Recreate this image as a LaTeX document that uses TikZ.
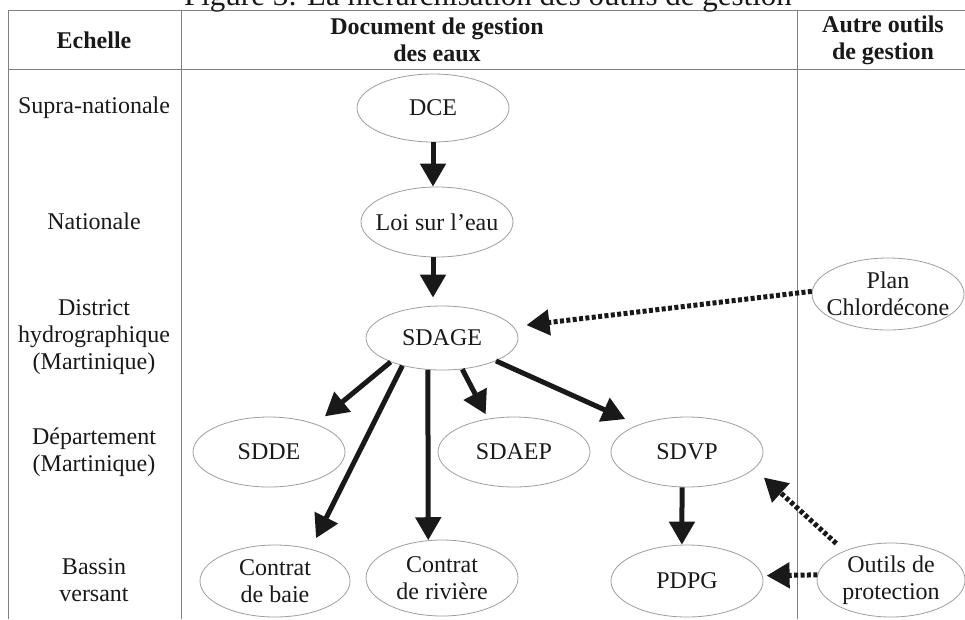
\documentclass[tikz,border=0pt]{standalone}
\usepackage{fontspec}
\setmainfont{Liberation Serif}
\usetikzlibrary{shapes.geometric,arrows.meta}
\begin{document}
\begin{tikzpicture}[x=1pt,y=-1pt,
  every node/.style={font=\fontsize{24}{27}\selectfont, text=black!90},
  doc/.style={ellipse, draw=black!38, line width=0.8pt, fill=white,
    minimum width=152pt, minimum height=70pt, inner xsep=-10pt, inner ysep=0pt, align=center},
  lbl/.style={align=center},
  hdr/.style={align=center, font=\fontsize{24}{27}\selectfont\bfseries},
  gridline/.style={draw=black!50, line width=1pt},
  arr/.style={draw=black!90, line width=5pt, -{Triangle[length=23pt,width=25pt]}},
  darr/.style={arr, dash pattern=on 4pt off 2.4pt}]
\useasboundingbox (0,0) rectangle (965,619);

% table lines
\draw[gridline] (8,619) -- (8,10) -- (965,10);
\draw[gridline] (8,69) -- (965,69);
\draw[gridline] (181,10) -- (181,619);
\draw[gridline] (797,10) -- (797,619);

% title (cut off at the top)
\node[font=\fontsize{31}{35}\selectfont, anchor=base] (title) at (488,5) {Figure 3: La hiérarchisation des outils de gestion};

% headers
\node[hdr] (h1) at (94,40) {Echelle};
\node[hdr] (h2) at (437,40) {Document de gestion\\des eaux};
\node[hdr] (h3) at (883,40) {Autre outils\\de gestion};

% scale labels
\node[lbl] (l1) at (94,108) {Supra-nationale};
\node[lbl] (l2) at (94,221) {Nationale};
\node[lbl] (l3) at (94,337) {District\\hydrographique\\(Martinique)};
\node[lbl] (l4) at (94,452) {Département\\(Martinique)};
\node[lbl] (l5) at (94,580) {Bassin\\versant};

% documents
\node[doc, minimum height=68pt] (dce) at (433,108) {DCE};
\node[doc] (loi) at (437,222) {Loi sur l’eau};
\node[doc, minimum height=64pt] (sdage) at (442,338) {SDAGE};
\node[doc] (sdde) at (269,452) {SDDE};
\node[doc] (sdaep) at (514,452) {SDAEP};
\node[doc] (sdvp) at (687,452) {SDVP};
\node[doc, minimum width=150pt, minimum height=72pt] (baie) at (275,581) {Contrat\\de baie};
\node[doc, minimum height=76pt] (riviere) at (442,578) {Contrat\\de rivière};
\node[doc, minimum height=72pt] (pdpg) at (687,581) {PDPG};
\node[doc, minimum height=72pt] (plan) at (888,294) {Plan\\Chlordécone};
\node[doc, minimum width=148pt, minimum height=74pt] (outils) at (891,580) {Outils de\\protection};

% arrows
\draw[arr] (dce.south) -- (dce.south |- loi.north);
\draw[arr, shorten >=8pt] (loi.south -| dce.south) -- (dce.south |- sdage.north);
\draw[arr, shorten >=12pt] (sdage.205) -- (sdde.31);
\draw[arr, shorten >=12pt] (sdage.215) -- (baie.42);
\draw[arr] (sdage.246) -- (riviere.110);
\draw[arr, shorten >=5pt] (sdage.-57) -- (sdaep.128);
\draw[arr, shorten >=14pt] (sdage.-23) -- (sdvp.151);
\draw[arr] (sdvp.-98) -- (pdpg.98);
\draw[darr, shorten >=13pt] (plan.178) -- (sdage.9);
\draw[darr, shorten <=11pt, shorten >=13pt] (outils.148) -- (sdvp.-14);
\draw[darr, shorten >=4pt] (outils.176) -- (pdpg.4);
\end{tikzpicture}
\end{document}
